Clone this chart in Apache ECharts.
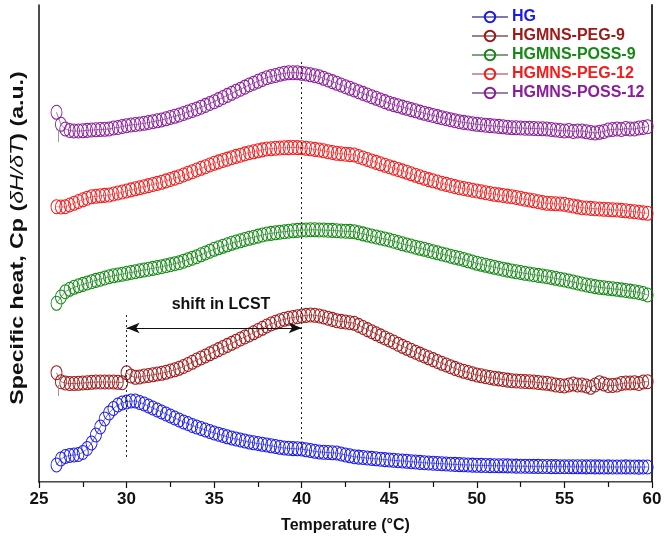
<!DOCTYPE html>
<html>
<head>
<meta charset="utf-8">
<script src="https://cdn.jsdelivr.net/npm/echarts@6/dist/echarts.min.js"></script>
<style>
html,body{margin:0;padding:0;background:#fff;}
#chart{width:666px;height:543px;}
</style>
</head>
<body>
<div id="chart"></div>
<script>
// Temperature grid (°C)
const temps = [
26,26.25,26.5,26.75,27,27.25,27.5,27.75,
28,28.25,28.5,28.75,29,29.25,29.5,29.75,
30,30.25,30.5,30.75,31,31.25,31.5,31.75,
32,32.25,32.5,32.75,33,33.25,33.5,33.75,
34,34.25,34.5,34.75,35,35.25,35.5,35.75,
36,36.25,36.5,36.75,37,37.25,37.5,37.75,
38,38.25,38.5,38.75,39,39.25,39.5,39.75,
40,40.25,40.5,40.75,41,41.25,41.5,41.75,
42,42.25,42.5,42.75,43,43.25,43.5,43.75,
44,44.25,44.5,44.75,45,45.25,45.5,45.75,
46,46.25,46.5,46.75,47,47.25,47.5,47.75,
48,48.25,48.5,48.75,49,49.25,49.5,49.75,
50,50.25,50.5,50.75,51,51.25,51.5,51.75,
52,52.25,52.5,52.75,53,53.25,53.5,53.75,
54,54.25,54.5,54.75,55,55.25,55.5,55.75,
56,56.25,56.5,56.75,57,57.25,57.5,57.75,
58,58.25,58.5,58.75,59,59.25,59.5,59.75
];

// Specific heat (a.u., curves vertically offset)
const hg = [
1.70,2.30,2.55,2.65,2.70,2.75,2.95,3.35,
3.90,4.70,5.50,6.30,6.90,7.35,7.70,7.90,
8.00,8.10,8.10,7.95,7.80,7.60,7.40,7.20,
7.00,6.80,6.60,6.40,6.20,6.00,5.85,5.65,
5.50,5.35,5.20,5.05,4.90,4.78,4.65,4.52,
4.40,4.30,4.20,4.10,4.00,3.92,3.85,3.77,
3.70,3.62,3.55,3.47,3.40,3.37,3.34,3.32,
3.30,3.22,3.15,3.07,3.00,2.97,2.95,2.92,
2.90,2.80,2.70,2.62,2.53,2.49,2.45,2.40,
2.36,2.32,2.28,2.24,2.20,2.17,2.13,2.10,
2.07,2.03,2.00,1.96,1.93,1.90,1.88,1.85,
1.83,1.80,1.78,1.76,1.74,1.72,1.70,1.69,
1.67,1.66,1.65,1.64,1.63,1.62,1.62,1.61,
1.60,1.59,1.58,1.58,1.57,1.56,1.56,1.55,
1.55,1.54,1.54,1.53,1.53,1.53,1.52,1.52,
1.52,1.51,1.52,1.51,1.51,1.50,1.51,1.50,
1.50,1.50,1.51,1.50,1.50,1.49,1.50,1.50
];
const peg9 = [
10.93,10.03,9.90,9.85,9.85,9.87,9.90,9.93,
9.97,10.00,10.00,10.00,10.00,10.00,9.97,9.93,
10.93,10.60,10.47,10.50,10.60,10.65,10.72,10.80,
10.87,10.97,11.10,11.22,11.37,11.55,11.75,11.97,
12.20,12.40,12.60,12.82,13.03,13.24,13.45,13.66,
13.87,14.08,14.30,14.50,14.70,14.92,15.15,15.37,
15.60,15.80,15.97,16.13,16.27,16.37,16.45,16.53,
16.60,16.66,16.70,16.67,16.60,16.50,16.38,16.26,
16.13,16.06,16.00,15.93,15.87,15.66,15.45,15.24,
15.03,14.82,14.61,14.40,14.20,14.00,13.78,13.57,
13.37,13.17,12.98,12.79,12.60,12.42,12.24,12.05,
11.87,11.70,11.53,11.36,11.20,11.07,10.95,10.82,
10.70,10.62,10.53,10.45,10.37,10.31,10.25,10.19,
10.13,10.10,10.08,10.05,10.03,10.00,9.95,9.90,
9.87,9.80,9.70,9.65,9.60,9.70,9.80,9.70,
9.70,9.60,9.47,9.70,9.93,9.80,9.65,9.65,
9.70,9.85,9.90,9.90,9.93,9.85,10.00,10.03
];
const poss9 = [
17.87,18.50,19.03,19.27,19.47,19.62,19.76,19.90,
20.03,20.16,20.28,20.40,20.53,20.62,20.70,20.78,
20.87,20.95,21.03,21.12,21.20,21.28,21.36,21.45,
21.53,21.63,21.73,21.83,21.93,22.08,22.23,22.38,
22.53,22.72,22.90,23.08,23.27,23.42,23.57,23.72,
23.87,24.00,24.12,24.25,24.37,24.48,24.59,24.70,
24.80,24.86,24.92,24.98,25.03,25.08,25.12,25.16,
25.20,25.20,25.22,25.22,25.20,25.20,25.18,25.16,
25.13,25.10,25.08,25.06,25.03,24.92,24.81,24.70,
24.60,24.50,24.40,24.30,24.20,24.08,23.95,23.82,
23.70,23.60,23.48,23.37,23.27,23.15,23.03,22.92,
22.80,22.70,22.58,22.47,22.37,22.25,22.12,22.00,
21.87,21.77,21.67,21.57,21.47,21.38,21.28,21.19,
21.10,21.02,20.95,20.87,20.80,20.73,20.66,20.60,
20.53,20.45,20.37,20.28,20.20,20.10,20.00,19.90,
19.80,19.70,19.62,19.54,19.47,19.42,19.37,19.32,
19.27,19.21,19.15,19.09,19.03,18.95,18.85,18.70
];
const peg12 = [
27.53,27.50,27.53,27.70,27.87,28.05,28.22,28.38,
28.53,28.57,28.62,28.66,28.70,28.80,28.90,29.00,
29.10,29.21,29.32,29.42,29.53,29.64,29.75,29.86,
29.97,30.11,30.25,30.39,30.53,30.70,30.87,31.03,
31.20,31.37,31.53,31.70,31.87,32.01,32.15,32.29,
32.43,32.56,32.68,32.81,32.93,33.02,33.12,33.21,
33.30,33.33,33.37,33.40,33.43,33.44,33.45,33.44,
33.43,33.37,33.32,33.26,33.20,33.12,33.03,32.95,
32.87,32.83,32.78,32.74,32.70,32.55,32.40,32.25,
32.10,31.96,31.82,31.67,31.53,31.39,31.25,31.11,
30.97,30.82,30.67,30.52,30.37,30.24,30.12,30.00,
29.87,29.76,29.65,29.54,29.43,29.35,29.27,29.18,
29.10,29.02,28.93,28.85,28.77,28.71,28.65,28.59,
28.53,28.45,28.37,28.28,28.20,28.12,28.03,27.95,
27.87,27.85,27.82,27.80,27.77,27.68,27.60,27.51,
27.43,27.40,27.36,27.33,27.30,27.27,27.25,27.22,
27.20,27.16,27.12,27.07,27.03,26.98,26.92,26.87
];
const poss12 = [
36.97,35.77,35.30,35.15,35.10,35.10,35.12,35.16,
35.20,35.22,35.25,35.27,35.30,35.40,35.45,35.55,
35.63,35.70,35.75,35.80,35.87,35.95,36.03,36.12,
36.20,36.32,36.45,36.57,36.70,36.85,37.00,37.15,
37.30,37.48,37.66,37.85,38.03,38.24,38.45,38.66,
38.87,39.08,39.28,39.49,39.70,39.88,40.07,40.25,
40.43,40.55,40.65,40.77,40.87,40.92,40.93,40.92,
40.87,40.80,40.72,40.63,40.53,40.37,40.20,40.04,
39.87,39.70,39.53,39.37,39.20,39.03,38.86,38.70,
38.53,38.37,38.20,38.04,37.87,37.74,37.62,37.49,
37.37,37.24,37.12,36.99,36.87,36.76,36.65,36.54,
36.43,36.33,36.23,36.13,36.03,35.96,35.90,35.83,
35.77,35.73,35.68,35.64,35.60,35.56,35.52,35.47,
35.43,35.42,35.40,35.38,35.37,35.35,35.33,35.32,
35.30,35.25,35.20,35.15,35.10,35.15,35.05,35.10,
35.10,35.02,34.95,34.90,34.97,35.05,35.20,35.25,
35.30,35.25,35.35,35.30,35.30,35.40,35.45,35.53
];

const seriesNames = ['HG','HGMNS-PEG-9','HGMNS-POSS-9','HGMNS-PEG-12','HGMNS-POSS-12'];
const seriesValues = [hg, peg9, poss9, peg12, poss12];
const seriesColors = ['#1a1aee','#a01818','#148a14','#f41c1c','#8c1c9c'];
const lineColors = ['#7a7ab8','#a08080','#80a080','#d09a9a','#9a80a4'];

// Annotation positions (data units)
const lcstLow = 30, lcstHigh = 40;
const xTicks = {min: 25, max: 60, interval: 5};
const yRange = {min: 0, max: 47.7};

const font = "'Liberation Sans', Arial, sans-serif";

const series = seriesNames.map((n, i) => ({
  name: n,
  type: 'line',
  data: temps.map((t, k) => [t, seriesValues[i][k]]),
  symbol: 'circle',
  symbolSize: [11, 14],
  showAllSymbol: true,
  itemStyle: {color: 'rgba(0,0,0,0)', borderColor: seriesColors[i], borderWidth: 1},
  lineStyle: {color: lineColors[i], width: 1},
  emphasis: {disabled: true},
  silent: true,
  z: 2
}));

series.push({
  name: 'annot',
  type: 'line',
  data: [],
  silent: true,
  markLine: {
    silent: true,
    animation: false,
    label: {show: false},
    data: [
      [{coord: [lcstLow, 16.7], symbol: 'none', lineStyle: {type: [2, 3], color: '#222', width: 1}},
       {coord: [lcstLow, 2.4], symbol: 'none'}],
      [{coord: [lcstHigh, 42.0], symbol: 'none', lineStyle: {type: [2, 3], color: '#222', width: 1}},
       {coord: [lcstHigh, 3.4], symbol: 'none'}],
      [{coord: [lcstLow, 15.4], symbol: 'arrow', symbolSize: [8, 13], lineStyle: {type: 'solid', color: '#111', width: 1}},
       {coord: [lcstHigh, 15.4], symbol: 'arrow', symbolSize: [8, 13]}],
      [{coord: [26.1, 35.2], symbol: 'none', lineStyle: {type: 'solid', color: '#999', width: 1}},
       {coord: [26.1, 34.0], symbol: 'none'}],
      [{coord: [26.1, 9.7], symbol: 'none', lineStyle: {type: 'solid', color: '#999', width: 1}},
       {coord: [26.1, 8.6], symbol: 'none'}]
    ]
  }
});

const chart = echarts.init(document.getElementById('chart'), null, {renderer: 'canvas'});
chart.setOption({
  animation: false,
  backgroundColor: '#fff',
  grid: {left: 39, right: 14, top: 5, bottom: 61, containLabel: false},
  legend: {
    data: seriesNames.map((n, i) => ({name: n, textStyle: {color: seriesColors[i]}})),
    orient: 'vertical',
    left: 466,
    top: 3,
    itemWidth: 36,
    itemHeight: 13,
    itemGap: 1,
    selectedMode: false,
    textStyle: {fontFamily: font, fontWeight: 'bold', fontSize: 16, lineHeight: 18, padding: [0,0,0,-1]}
  },
  xAxis: [{
    type: 'value', min: xTicks.min, max: xTicks.max, interval: xTicks.interval,
    axisLine: {lineStyle: {color: '#111', width: 1.5}},
    axisTick: {show: true, inside: false, length: 6, lineStyle: {color: '#111', width: 1.2}},
    minorTick: {show: true, splitNumber: 2, length: 5, lineStyle: {color: '#111', width: 1.2}},
    splitLine: {show: false},
    axisLabel: {color: '#111', fontFamily: font, fontWeight: 'bold', fontSize: 17, margin: 9},
    name: 'Temperature (°C)', nameLocation: 'middle', nameGap: 36,
    nameTextStyle: {color: '#111', fontFamily: font, fontWeight: 'bold', fontSize: 16}
  }, {
    type: 'value', position: 'top', min: xTicks.min, max: xTicks.max,
    axisLine: {lineStyle: {color: '#999', width: 1}},
    axisTick: {show: false}, axisLabel: {show: false}, splitLine: {show: false}
  }],
  yAxis: [{
    type: 'value', min: yRange.min, max: yRange.max,
    axisLine: {show: true, lineStyle: {color: '#111', width: 1.5}},
    axisTick: {show: false}, axisLabel: {show: false}, splitLine: {show: false}
  }, {
    type: 'value', position: 'right', min: yRange.min, max: yRange.max,
    axisLine: {show: true, lineStyle: {color: '#333', width: 2}},
    axisTick: {show: false}, axisLabel: {show: false}, splitLine: {show: false}
  }],
  graphic: [{
    type: 'text', x: 221, y: 305, silent: true,
    style: {text: 'shift in LCST', font: "bold 16px 'Liberation Sans', Arial, sans-serif",
      fill: '#111', textAlign: 'center', textVerticalAlign: 'middle'}
  }, {
    type: 'text', x: 18, y: 238, rotation: Math.PI / 2, scaleX: 1.22, silent: true,
    style: {
      text: '{b|Specific heat, Cp (}{i|δH/δT}{b|) (a.u.)}',
      textAlign: 'center', textVerticalAlign: 'middle',
      rich: {
        b: {fontFamily: font, fontWeight: 'bold', fontSize: 19, fill: '#111', color: '#111'},
        i: {fontFamily: font, fontStyle: 'italic', fontWeight: 'normal', fontSize: 19, fill: '#111', color: '#111'}
      }
    }
  }],
  series: series
});
</script>
</body>
</html>
